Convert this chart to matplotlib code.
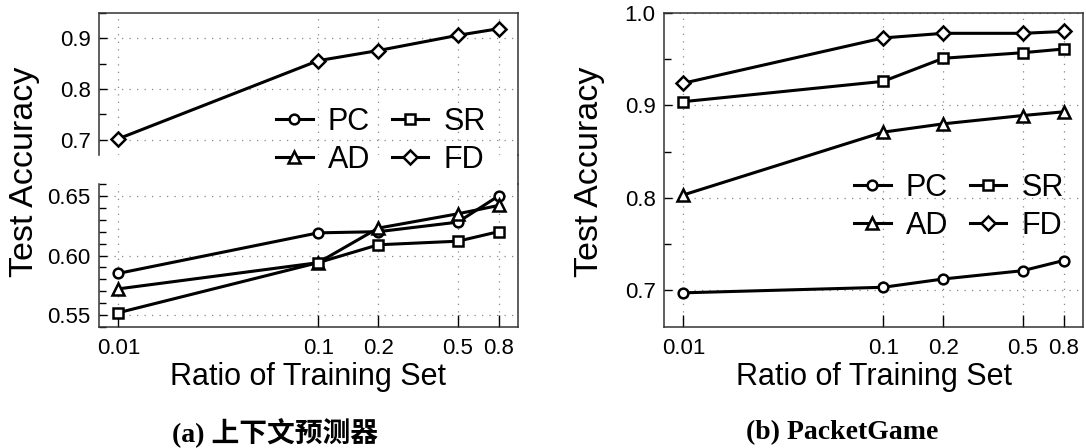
import numpy as np
import matplotlib.pyplot as plt
from matplotlib.lines import Line2D
from matplotlib.ticker import FixedLocator, NullLocator, MultipleLocator, FormatStrFormatter

plt.rcParams['font.family'] = ['Liberation Sans', 'DejaVu Sans']

ratios = [0.01, 0.1, 0.2, 0.5, 0.8]
ratio_labels = ['0.01', '0.1', '0.2', '0.5', '0.8']
names = ['PC', 'AD', 'SR', 'FD']
markers = ['o', '^', 's', 'D']
msizes = [7, 9, 7.5, 7.5]

# (a) context predictor
ctx_pc = [0.585, 0.619, 0.620, 0.628, 0.650]
ctx_ad = [0.572, 0.594, 0.623, 0.635, 0.642]
ctx_sr = [0.552, 0.594, 0.609, 0.612, 0.620]
ctx_fd = [0.702, 0.856, 0.876, 0.906, 0.919]

# (b) PacketGame
pg_pc = [0.697, 0.703, 0.712, 0.721, 0.732]
pg_ad = [0.803, 0.871, 0.880, 0.889, 0.893]
pg_sr = [0.904, 0.926, 0.951, 0.957, 0.961]
pg_fd = [0.924, 0.973, 0.978, 0.978, 0.980]

W, H = 1086, 448
fig = plt.figure(figsize=(W / 100, H / 100), dpi=100)

def px(x0, y0, x1, y1):
    return [x0 / W, 1 - y1 / H, (x1 - x0) / W, (y1 - y0) / H]

ax1 = fig.add_axes(px(99, 13, 518, 155))
ax2 = fig.add_axes(px(99, 184, 518, 327))
ax3 = fig.add_axes(px(664, 13, 1083, 327))

spine_col = '#333333'
grid_kw = dict(color='#888888', linestyle=(0, (1, 5)), linewidth=0.9)

def style(ax, xlabels=True):
    ax.set_xscale('log')
    ax.set_xlim(0.008, 1.0)
    ax.xaxis.set_major_locator(FixedLocator(ratios))
    ax.xaxis.set_minor_locator(NullLocator())
    if xlabels:
        ax.set_xticklabels(ratio_labels)
    else:
        ax.set_xticklabels([])
    ax.tick_params(axis='x', which='major', direction='in', length=9, width=1, pad=8,
                   labelsize=16, top=False)
    ax.tick_params(axis='y', which='both', direction='in', width=1, pad=6,
                   labelsize=16, right=False)
    ax.tick_params(axis='y', which='major', length=6)
    ax.tick_params(axis='y', which='minor', length=5)
    ax.grid(True, which='major', **grid_kw)
    for s in ax.spines.values():
        s.set_color(spine_col)
        s.set_linewidth(1.1)

def draw(ax, series):
    hs = []
    for vals, m, ms, name in zip(series, markers, msizes, names):
        h, = ax.plot(ratios, vals, color='black', linewidth=2.2, marker=m, markersize=ms,
                     markerfacecolor='white', markeredgecolor='black', markeredgewidth=1.8,
                     label=name)
        hs.append(h)
    return hs

# left: broken axis
style(ax1, xlabels=False)
style(ax2)
hs = draw(ax1, [ctx_pc, ctx_ad, ctx_sr, ctx_fd])
draw(ax2, [ctx_pc, ctx_ad, ctx_sr, ctx_fd])
ax1.set_ylim(0.67, 0.95)
ax1.yaxis.set_major_locator(MultipleLocator(0.1))
ax1.yaxis.set_minor_locator(MultipleLocator(0.05))
ax1.yaxis.set_major_formatter(FormatStrFormatter('%.1f'))
ax1.spines['bottom'].set_visible(False)
ax1.tick_params(axis='x', which='both', bottom=False)
ax2.set_ylim(0.54, 0.66)
ax2.yaxis.set_major_locator(MultipleLocator(0.05))
ax2.yaxis.set_minor_locator(MultipleLocator(0.01))
ax2.yaxis.set_major_formatter(FormatStrFormatter('%.2f'))
ax2.spines['top'].set_visible(False)
fig.add_artist(Line2D([518 / W, 518 / W], [1 - 155 / H, 1 - 184 / H],
                      transform=fig.transFigure, color=spine_col, linewidth=1.1))
ax2.set_xlabel('Ratio of Training Set', fontsize=22, labelpad=2)

# right
style(ax3)
draw(ax3, [pg_pc, pg_ad, pg_sr, pg_fd])
ax3.set_ylim(0.66, 1.0)
ax3.yaxis.set_major_locator(MultipleLocator(0.1))
ax3.yaxis.set_minor_locator(MultipleLocator(0.05))
ax3.yaxis.set_major_formatter(FormatStrFormatter('%.1f'))
ax3.set_xlabel('Ratio of Training Set', fontsize=22, labelpad=2)

fig.text(25 / W, 1 - 172 / H, 'Test Accuracy', rotation=90, ha='center', va='center', fontsize=24.5)
fig.text(590 / W, 1 - 172 / H, 'Test Accuracy', rotation=90, ha='center', va='center', fontsize=24.5)

leg_kw = dict(ncol=2, frameon=False, fontsize=22, handlelength=1.2, handletextpad=0.5,
              columnspacing=0.7, labelspacing=0.25, borderpad=0, borderaxespad=0, loc='center',
              bbox_transform=fig.transFigure)
fig.legend(handles=hs, bbox_to_anchor=(381 / W, 1 - 141 / H), **leg_kw)
fig.legend(handles=hs, bbox_to_anchor=(959 / W, 1 - 207 / H), **leg_kw)

cap_font = ['Liberation Serif', 'Noto Sans CJK SC']
fig.text(275 / W, 1 - 433 / H, '(a) 上下文预测器', ha='center', va='center', fontsize=20,
         fontweight='bold', family=cap_font)
fig.text(842 / W, 1 - 433 / H, '(b) PacketGame', ha='center', va='center', fontsize=20,
         fontweight='bold', family=cap_font)

fig.savefig('out.png', dpi=100)
